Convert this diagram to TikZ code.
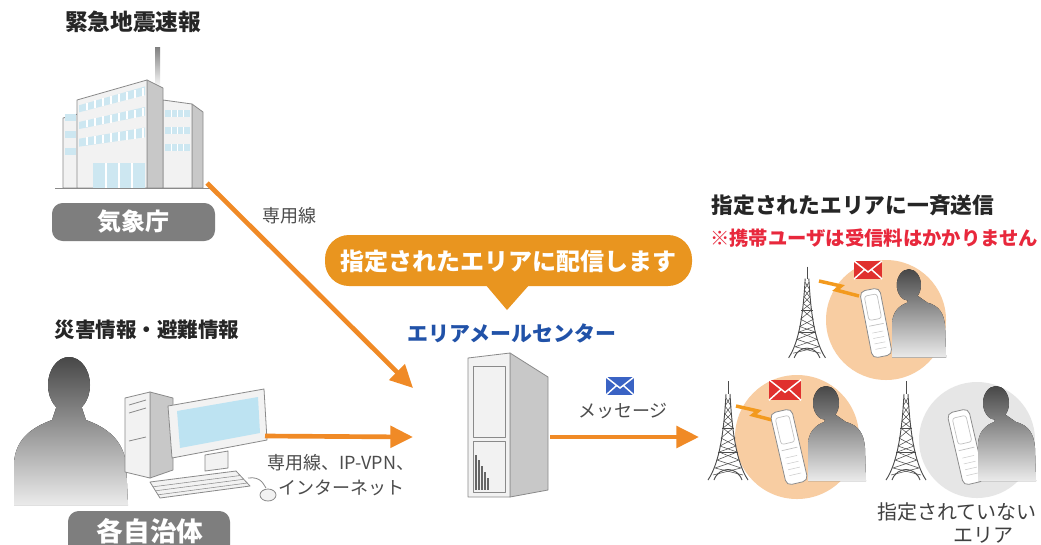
\documentclass[tikz,border=0pt]{standalone}
\usepackage{fontspec}
\setmainfont{Noto Sans CJK JP}
\usetikzlibrary{arrows.meta}

\definecolor{flowor}{HTML}{F08A26}
\definecolor{bubbleor}{HTML}{E9951F}
\definecolor{labelgray}{HTML}{7E7E7E}
\definecolor{centerblue}{HTML}{2152A8}
\definecolor{notered}{HTML}{E8283C}
\definecolor{peach}{HTML}{F8CDA2}
\definecolor{paleg}{HTML}{E6E6E6}
\definecolor{glass}{HTML}{CDE7F1}
\definecolor{screen}{HTML}{BDE3F2}
\definecolor{wall}{HTML}{F2F2F2}
\definecolor{shade}{HTML}{C8C8C8}
\definecolor{edge}{HTML}{8A8A8A}
\definecolor{mailblue}{HTML}{3A63C4}
\definecolor{mailred}{HTML}{E0302E}
\definecolor{boltor}{HTML}{F39A1E}

\tikzset{
  flow/.style={draw=flowor, line width=3.5pt, -{Triangle[length=17pt,width=16pt]}},
  tag/.style={fill=labelgray, rounded corners=8pt, draw=none},
  tagtext/.style={text=white, inner sep=0pt},
  head/.style={text=black!85, inner sep=0pt},
  small/.style={text=black!70, inner sep=0pt, font=\fontsize{13.5}{17}\selectfont},
  outline/.style={draw=edge, line width=0.6pt, line join=round},
  silhouette/.style={top color=black!72, bottom color=black!8, draw=none},
  mail/.pic={
    \fill[#1] (-14,-9) rectangle (14,9);
    \draw[white, line width=1.1pt] (-14,-9) -- (0,2) -- (14,-9)
      (-14,9) -- (-4,0) (14,9) -- (4,0);
  },
  bolt/.pic={
    \draw[boltor, line width=2.6pt, line join=miter] (0,0) -- (22,5) -- (17,9) -- (40,15);
  },
  radiotower/.pic={
    \begin{scope}[draw=black!70, line width=0.7pt, line join=round]
      \draw (0,-9) -- (0,4);
      \draw (-2,4) .. controls (-4,40) and (-8,72) .. (-20,90);
      \draw (2,4) .. controls (4,40) and (8,72) .. (20,90);
      \draw (-6,38) -- (6,38);
      \draw (-10,62) -- (10,62);
      \draw[line width=0.4pt] (-2,8) -- (3,16) -- (-3,24) -- (4,31) -- (-5,38) -- (7,48) -- (-8,56) -- (9,62)
        -- (-11,70) -- (13,78) -- (-15,85);
      \draw[line width=0.4pt] (2,8) -- (-3,16) -- (3,24) -- (-4,31) -- (5,38) -- (-7,48) -- (8,56) -- (-9,62)
        -- (11,70) -- (-13,78) -- (15,85);
      \draw (-14,90) .. controls (-9,76) and (9,76) .. (14,90);
    \end{scope}
  },
  handset/.pic={
    \filldraw[fill=white, draw=black!45, line width=0.6pt, rounded corners=4pt] (-11,-37) rectangle (11,37);
    \draw[black!25, line width=0.5pt, rounded corners=2pt] (-7,-31) rectangle (7,-4);
    \draw[black!25, line width=0.5pt] (-8,2) -- (8,2);
    \foreach \k in {10,16,...,30} \draw[black!20, line width=0.4pt] (-6,\k) -- (6,\k);
  },
  person/.pic={
    \fill[silhouette] (2,0) ellipse [x radius=13, y radius=17]
      (-16,78) -- (-16,40) .. controls (-15,28) and (-8,22) .. (0,19) -- (3,12) -- (12,12)
      -- (22,19) .. controls (34,22) and (40,30) .. (41,45) -- (42,78) -- cycle;
  },
}

\begin{document}
\begin{tikzpicture}[x=0.75pt,y=-0.75pt]
\useasboundingbox (0,0) rectangle (1041,544);
\clip (0,0) rectangle (1041,544);
\fill[white] (0,0) rectangle (1041,544);

% ---------------- Japan Meteorological Agency building
\fill[shade] (155,47) rectangle (160,88);
\filldraw[outline, fill=wall] (63,188) -- (63,118) -- (78,114) -- (78,188) -- cycle;
\filldraw[outline, fill=shade] (192,104) -- (203,112) -- (203,188) -- (192,188) -- cycle;
\filldraw[outline, fill=wall] (163,100) -- (192,104) -- (192,188) -- (163,188) -- cycle;
\filldraw[outline, fill=shade] (147,80) -- (163,88) -- (163,188) -- (147,188) -- cycle;
\filldraw[outline, fill=wall] (77,100) -- (147,80) -- (147,188) -- (77,188) -- cycle;
\foreach \ta/\tb in {0.06/0.14,0.25/0.33,0.44/0.53}{
  \fill[glass] (79,{100+88*\ta}) -- (145,{80+108*\ta}) -- (145,{80+108*\tb}) -- (79,{100+88*\tb}) -- cycle;
  \foreach \x in {87,95,...,143}
    \draw[white, line width=0.8pt] (\x,{100+88*\ta+(\x-77)/70*(-20+20*\ta)}) -- (\x,{100+88*\tb+(\x-77)/70*(-20+20*\tb)});
}
\foreach \ya in {110,127,144}{
  \fill[glass] (165,\ya) rectangle (190,\ya+7);
  \fill[glass] (65,\ya+4) rectangle (76,\ya+11);
  \foreach \x in {171,177,183} \draw[white, line width=0.7pt] (\x,\ya) -- (\x,\ya+7);
}
\fill[glass] (93,163) rectangle (145,188);
\foreach \x in {106,119,132} \draw[white, line width=0.9pt] (\x,163) -- (\x,188);
\draw[edge, line width=0.6pt] (55,188) -- (210,188);
\node[head, font=\bfseries\fontsize{17}{20}\selectfont] (eew) at (133,22) {緊急地震速報};
\fill[tag] (52,203) rectangle (215,241);
\node[tagtext, font=\bfseries\fontsize{18}{20}\selectfont] (jma) at (133,222) {気象庁};
\coordinate (jmaport) at (207,183);

% ---------------- municipality: person and PC
\fill[silhouette] (69,385) ellipse [x radius=21, y radius=28]
  (14,505) -- (14,462) .. controls (16,440) and (30,428) .. (52,420) -- (56,408) -- (82,408)
  -- (86,420) .. controls (108,428) and (122,440) .. (126,462) -- (128,505) -- cycle;
\filldraw[outline, fill=shade] (150,392) -- (173,398) -- (173,470) -- (150,478) -- cycle;
\filldraw[outline, fill=wall] (125,398) -- (150,392) -- (150,478) -- (125,472) -- cycle;
\draw[outline] (129,405) -- (146,400) (129,413) -- (146,408) (129,441) -- (146,437);
\filldraw[outline, fill=wall] (168,406) -- (264,389) -- (267,440) -- (172,458) -- cycle;
\fill[screen] (177,411) -- (258,397) -- (260,433) -- (180,448) -- cycle;
\filldraw[outline, fill=wall] (205,455) -- (228,451) -- (228,468) -- (205,471) -- cycle;
\filldraw[outline, fill=wall] (150,482) -- (236,471) -- (250,486) -- (160,498) -- cycle;
\foreach \s in {0.3,0.55,0.8}
  \draw[edge, line width=0.4pt] ({150+10*\s},{482+16*\s}) -- ({236+14*\s},{471+15*\s});
\draw[outline] (248,478) .. controls (262,476) and (264,486) .. (266,488);
\filldraw[outline, fill=wall] (268,495) ellipse [x radius=8, y radius=6];
\node[head, font=\bfseries\fontsize{15.4}{18}\selectfont] (info) at (147,330) {災害情報・避難情報};
\fill[tag] (68,511) rectangle (230,570);
\node[tagtext, font=\bfseries\fontsize{20}{22}\selectfont] (city) at (150,531) {各自治体};
\coordinate (pcport) at (265,436);

% ---------------- area mail center
\fill[bubbleor, rounded corners=18pt] (325,235) rectangle (692,286);
\fill[bubbleor] (485,284) -- (507,310) -- (530,284) -- cycle;
\node[text=white, inner sep=0pt, font=\bfseries\fontsize{18}{20}\selectfont] (bubble) at (508,261) {指定されたエリアに配信します};
\node[text=centerblue, inner sep=0pt, font=\bfseries\fontsize{15.7}{18}\selectfont] (center) at (512,333) {エリアメールセンター};
\filldraw[outline, fill=shade] (510,353) -- (548,377) -- (548,490) -- (510,497) -- cycle;
\filldraw[outline, fill=wall] (468,358) -- (510,353) -- (510,497) -- (468,497) -- cycle;
\draw[outline] (473,366) rectangle (505,437);
\draw[outline] (473,441) rectangle (505,492);
\foreach \x/\t in {476/455,479/460,482/466,485/472,488/478}
  \draw[black!60, line width=0.8pt] (\x,\t) -- (\x,490);
\coordinate (srvin1) at (413,388);
\coordinate (srvin2) at (413,437);
\coordinate (srvout) at (550,437);
\pic at (620,386) {mail=mailblue};
\node[small] (msg) at (623,411) {メッセージ};

% ---------------- connectors
\draw[flow] (jmaport) -- (srvin1);
\node[small] (line1) at (289,216) {専用線};
\draw[flow] (pcport) -- (srvin2);
\node[small, align=center, font=\fontsize{13.5}{19}\selectfont] (line2) at (341,475) {専用線、IP-VPN、\\インターネット};
\coordinate (areain) at (699,437);
\draw[flow] (srvout) -- (areain);

% ---------------- receiving areas
\node[head, font=\bfseries\fontsize{16.3}{19}\selectfont] (bcast) at (853,205) {指定されたエリアに一斉送信};
\node[text=notered, inner sep=0pt, font=\bfseries\fontsize{14.5}{17}\selectfont] (note) at (874,238) {※携帯ユーザは受信料はかかりません};

\fill[peach] (886,320) circle [radius=60];
\fill[peach] (797,437) circle [radius=62];
\fill[paleg] (977,440) circle [radius=58];

\pic[scale=0.92] at (807,275) {radiotower};
\pic at (728,390) {radiotower};
\pic at (906,390) {radiotower};

\pic at (819,281) {bolt};
\pic at (736,406) {bolt};

\pic at (868,270) {mail=mailred};
\pic[scale=1.15] at (785,390) {mail=mailred};

\pic[rotate=11, scale=0.92] at (876,323) {handset};
\pic[rotate=13] at (789,447) {handset};
\pic[rotate=13] at (966,447) {handset};

\pic[scale=0.93] at (907,285) {person};
\pic at (824,403) {person};
\pic at (994,403) {person};

\node[text=black!75, inner sep=0pt, font=\fontsize{15}{17}\selectfont] (outside1) at (957,512) {指定されていない};
\node[text=black!75, inner sep=0pt, font=\fontsize{15}{17}\selectfont] (outside2) at (983,535) {エリア};
\end{tikzpicture}
\end{document}
